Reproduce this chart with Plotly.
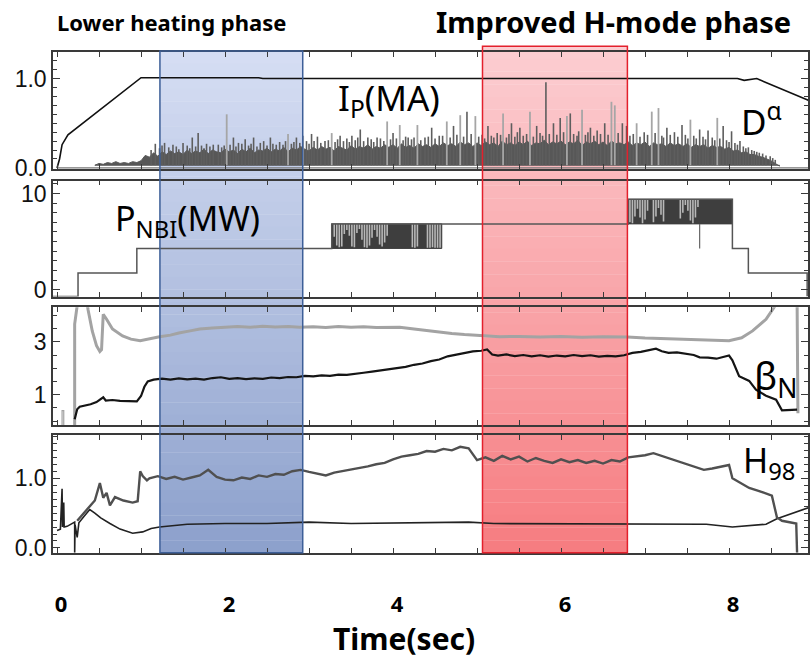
import plotly.graph_objects as go

W, H = 810, 664

# ---------------- data ----------------
# Panel 1: plasma current (MA) and D-alpha
ip_t = [0.00, 0.03, 0.06, 0.13, 1.00, 2.40, 2.45, 8.10, 8.18, 8.25, 8.33, 8.96]
ip_v = [0.00, 0.10, 0.26, 0.37, 1.01, 1.01, 1.00, 1.00, 0.98, 0.99, 1.00, 0.75]

da_band_start, da_band_step = 0.45, 0.05
da_band_top = [
    0.03, 0.05, 0.04, 0.06, 0.05, 0.07, 0.05, 0.06, 0.05, 0.07,
    0.06, 0.08, 0.14, 0.12, 0.17, 0.13, 0.18, 0.15, 0.19, 0.16,
    0.18, 0.15, 0.20, 0.16, 0.19, 0.17, 0.21, 0.16, 0.20, 0.18,
    0.17, 0.21, 0.18, 0.20, 0.16, 0.21, 0.18, 0.22, 0.17, 0.20,
    0.19, 0.22, 0.18, 0.21, 0.19, 0.23, 0.18, 0.22, 0.20, 0.24,
    0.21, 0.19, 0.23, 0.20, 0.24, 0.21, 0.23, 0.19, 0.24, 0.22,
    0.20, 0.25, 0.21, 0.24, 0.22, 0.26, 0.21, 0.24, 0.22, 0.26,
    0.23, 0.26, 0.22, 0.27, 0.23, 0.25, 0.22, 0.27, 0.24, 0.26,
    0.23, 0.27, 0.24, 0.28, 0.25, 0.27, 0.24, 0.29, 0.26, 0.28,
    0.24, 0.28, 0.25, 0.29, 0.26, 0.28, 0.24, 0.30, 0.26, 0.28,
    0.25, 0.29, 0.26, 0.30, 0.25, 0.28, 0.27, 0.31, 0.26, 0.29,
    0.27, 0.30, 0.26, 0.29, 0.27, 0.31, 0.25, 0.29, 0.27, 0.30,
    0.26, 0.29, 0.25, 0.30, 0.27, 0.28, 0.26, 0.29, 0.25, 0.28,
    0.26, 0.29, 0.24, 0.28, 0.26, 0.27, 0.24, 0.28, 0.25, 0.27,
    0.24, 0.27, 0.23, 0.26, 0.24, 0.26, 0.22, 0.25, 0.23, 0.24,
    0.21, 0.23, 0.19, 0.20, 0.17, 0.18, 0.15, 0.15, 0.13, 0.12,
    0.10, 0.08, 0.05, 0.02,
]
da_band_floor = 0.03

da_dark_t = [1.17, 1.28, 1.38, 1.50, 1.61, 1.68, 1.78, 1.92, 2.10, 2.16, 2.24, 2.34,
             2.46, 2.54, 2.61, 2.85, 3.03, 3.10, 3.19, 3.37, 3.51, 3.61, 3.70, 3.81,
             4.00, 4.18, 4.38, 4.46, 4.55, 4.72, 4.88, 5.13, 5.24, 5.41, 5.51, 5.71,
             5.82, 5.91, 5.99, 6.11, 6.35, 6.43, 6.52, 6.73, 6.78, 6.99, 7.26, 7.35,
             7.44, 7.65, 7.75, 7.93, 8.03, 8.13, 8.23, 8.33, 8.40, 8.49,
             1.12, 1.22, 1.25, 1.33, 1.42, 1.45, 1.55, 1.58, 1.65, 1.72, 1.75, 1.82,
             1.86, 1.96, 1.99, 2.06, 2.13, 2.20, 2.28, 2.31, 2.38, 2.42, 2.50, 2.57,
             2.65, 2.69, 2.72, 2.79, 2.82, 2.89, 2.97, 3.00, 3.06, 3.14, 3.23, 3.31,
             3.34, 3.41, 3.45, 3.48, 3.55, 3.58, 3.65, 3.74, 3.77, 3.85, 3.89, 3.97,
             4.04, 4.12, 4.15, 4.22, 4.25, 4.33, 4.42, 4.50, 4.59, 4.68, 4.76, 4.84,
             4.93, 5.02, 5.06, 5.09, 5.17, 5.20, 5.28, 5.35, 5.38, 5.45, 5.48, 5.55,
             5.59, 5.67, 5.75, 5.78, 5.86, 5.95, 6.03, 6.15, 6.19, 6.21, 6.29, 6.32,
             6.39, 6.47, 6.56, 6.68, 6.82, 6.86, 6.94, 7.03, 7.12, 7.20, 7.22, 7.30,
             7.39, 7.48, 7.51, 7.58, 7.61, 7.69, 7.72, 7.80, 7.83, 7.89, 7.97, 8.00,
             8.07, 8.10, 8.17, 8.20, 8.27, 8.30, 8.36, 8.44, 8.52, 8.55]
da_dark_h = [0.27, 0.28, 0.26, 0.28, 0.34, 0.39, 0.27, 0.26, 0.34, 0.28, 0.32, 0.34,
             0.30, 0.34, 0.26, 0.34, 0.38, 0.35, 0.30, 0.36, 0.36, 0.43, 0.34, 0.34,
             0.39, 0.34, 0.34, 0.45, 0.36, 0.47, 0.63, 0.47, 0.39, 0.50, 0.45, 0.47,
             0.96, 0.50, 0.56, 0.61, 0.45, 0.42, 0.50, 0.50, 0.47, 0.40, 0.45, 0.40,
             0.48, 0.43, 0.42, 0.47, 0.41, 0.30, 0.23, 0.18, 0.16, 0.13,
             0.20, 0.22, 0.25, 0.23, 0.24, 0.21, 0.25, 0.22, 0.24, 0.25, 0.22, 0.24,
             0.26, 0.23, 0.25, 0.26, 0.24, 0.27, 0.25, 0.27, 0.24, 0.28, 0.25, 0.27,
             0.29, 0.26, 0.30, 0.27, 0.29, 0.28, 0.30, 0.27, 0.30, 0.28, 0.31, 0.29,
             0.32, 0.30, 0.33, 0.29, 0.31, 0.34, 0.30, 0.32, 0.29, 0.33, 0.30, 0.32,
             0.33, 0.31, 0.35, 0.32, 0.34, 0.31, 0.35, 0.33, 0.36, 0.34, 0.37, 0.35,
             0.38, 0.35, 0.37, 0.33, 0.36, 0.34, 0.37, 0.34, 0.38, 0.35, 0.40, 0.36,
             0.38, 0.35, 0.39, 0.36, 0.38, 0.37, 0.40, 0.38, 0.36, 0.41, 0.37, 0.40,
             0.36, 0.38, 0.37, 0.39, 0.36, 0.38, 0.35, 0.37, 0.39, 0.36, 0.34, 0.37,
             0.35, 0.37, 0.33, 0.36, 0.33, 0.35, 0.32, 0.34, 0.31, 0.33, 0.31, 0.29,
             0.28, 0.26, 0.24, 0.22, 0.20, 0.19, 0.17, 0.14, 0.11, 0.09]
da_light_t = [2.02, 2.75, 2.93, 3.27, 3.93, 4.08, 4.29, 4.64, 4.80, 4.98, 5.31, 5.63,
              6.07, 6.25, 6.60, 6.64, 6.90, 7.08, 7.16, 7.54, 7.86]
da_light_h = [0.60, 0.38, 0.36, 0.39, 0.52, 0.48, 0.48, 0.52, 0.59, 0.58, 0.61, 0.63,
              0.58, 0.65, 0.74, 0.70, 0.50, 0.63, 0.67, 0.54, 0.56]

# Panel 2: NBI power (MW)
nbi_t = [-0.05, 0.25, 0.25, 0.95, 0.95, 3.27, 3.27, 6.80, 6.80, 8.04, 8.04, 8.23, 8.23, 8.93, 8.93]
nbi_v = [-0.70, -0.70, 1.73, 1.73, 4.29, 4.29, 6.84, 6.84, 9.39, 9.39, 4.29, 4.29, 1.73, 1.73, -0.70]
nbi_blocks = [  # (t_start, t_end, low, high) of modulated periods
    (3.27, 4.58, 4.29, 6.84),
    (6.80, 8.04, 6.84, 9.39),
]
nbi_dip_t = [7.65, 7.65]
nbi_dip_v = [6.84, 4.29]
nbi_off1_t = [3.30, 3.33, 3.36, 3.39, 3.42, 3.45, 3.48, 3.51, 3.54, 3.57, 3.60, 3.63, 3.66,
              3.69, 3.72, 3.75, 3.78, 3.81, 3.84, 3.87, 3.90, 3.93, 4.23, 4.26, 4.29,
              4.41, 4.44, 4.47, 4.50, 4.53, 4.56]
nbi_off1_b = [5.50, 4.60, 4.40, 4.50, 5.80, 6.20, 5.60, 4.50, 4.40, 5.90, 6.30, 5.20, 4.40,
              4.35, 4.60, 5.40, 6.20, 5.50, 4.70, 4.50, 4.90, 5.60, 4.40, 4.35, 4.50,
              4.35, 4.35, 4.40, 4.35, 4.35, 4.35]
nbi_off2_t = [6.82, 6.85, 6.88, 6.91, 6.94, 6.97, 7.00, 7.03, 7.10, 7.13, 7.16, 7.19, 7.22,
              7.42, 7.45, 7.48, 7.51, 7.54, 7.57, 7.60, 7.63]
nbi_off2_b = [7.00, 6.90, 7.60, 8.40, 7.50, 6.90, 7.30, 8.20, 7.00, 7.60, 8.50, 7.80, 7.10,
              7.40, 8.00, 8.80, 8.20, 7.20, 6.90, 7.50, 8.60]

# Panel 3: beta_N (black) and grey companion trace
bn_t = [0.21, 0.24, 0.27, 0.33, 0.40, 0.47, 0.51, 0.55, 0.58, 0.66, 0.75, 0.85, 0.95, 1.00,
        1.04, 1.08, 1.15, 1.25, 1.35, 1.45, 1.55, 1.65, 1.75, 1.85, 1.95, 2.05, 2.15, 2.25,
        2.35, 2.45, 2.55, 2.65, 2.75, 2.85, 2.95, 3.05, 3.15, 3.25, 3.35, 3.45, 3.55, 3.65,
        3.75, 3.85, 3.95, 4.05, 4.15, 4.25, 4.35, 4.45, 4.55, 4.65, 4.75, 4.85, 4.95, 5.05,
        5.12, 5.18, 5.25, 5.35, 5.45, 5.55, 5.65, 5.75, 5.85, 5.95, 6.05, 6.15, 6.25, 6.35,
        6.45, 6.55, 6.65, 6.75, 6.85, 6.95, 7.05, 7.13, 7.20, 7.28, 7.38, 7.48, 7.58, 7.65,
        7.75, 7.85, 7.95, 8.00, 8.04, 8.12, 8.24, 8.32, 8.44, 8.56, 8.63, 8.81]
bn_v = [0.07, 0.45, 0.55, 0.58, 0.64, 0.72, 0.80, 0.90, 0.78, 0.80, 0.77, 0.75, 0.75, 0.95,
        1.30, 1.50, 1.57, 1.61, 1.57, 1.62, 1.58, 1.61, 1.57, 1.63, 1.66, 1.60, 1.63, 1.59,
        1.62, 1.60, 1.65, 1.63, 1.67, 1.66, 1.71, 1.69, 1.73, 1.71, 1.76, 1.75, 1.80, 1.83,
        1.87, 1.91, 1.95, 2.01, 2.05, 2.13, 2.18, 2.27, 2.33, 2.45, 2.52, 2.58, 2.64, 2.66,
        2.71, 2.52, 2.48, 2.52, 2.46, 2.50, 2.45, 2.49, 2.44, 2.48, 2.45, 2.50, 2.46, 2.49,
        2.44, 2.47, 2.45, 2.49, 2.58, 2.62, 2.68, 2.74, 2.64, 2.58, 2.60, 2.55, 2.50, 2.41,
        2.40, 2.36, 2.44, 2.48, 2.30, 1.70, 1.52, 1.19, 0.96, 0.81, 0.41, 0.44]
gr_t = [0.21, 0.21, 0.25, 0.35, 0.37, 0.42, 0.47, 0.51, 0.53, 0.55, 0.59, 0.66, 0.78, 0.88,
        0.99, 1.10, 1.22, 1.35, 1.45, 1.60, 1.70, 1.85, 2.00, 2.15, 2.30, 2.45, 2.60, 2.75,
        2.89, 3.05, 3.20, 3.35, 3.50, 3.65, 3.80, 3.95, 4.08, 4.25, 4.40, 4.55, 4.70, 4.85,
        5.00, 5.15, 5.27, 5.50, 5.75, 6.00, 6.25, 6.50, 6.79, 7.00, 7.25, 7.50, 7.75, 8.00,
        8.15, 8.28, 8.44, 8.54, 8.60, 8.81, 8.82]
gr_v = [-0.15, 3.67, 4.60, 4.60, 4.20, 3.40, 2.85, 2.63, 2.70, 4.04, 3.85, 3.48, 3.22, 3.10,
        3.04, 3.12, 3.19, 3.25, 3.33, 3.42, 3.48, 3.52, 3.54, 3.58, 3.55, 3.59, 3.56, 3.58,
        3.55, 3.57, 3.54, 3.58, 3.55, 3.57, 3.54, 3.56, 3.55, 3.48, 3.42, 3.36, 3.31, 3.27,
        3.24, 3.21, 3.19, 3.20, 3.18, 3.20, 3.17, 3.19, 3.18, 3.14, 3.11, 3.09, 3.06, 3.04,
        3.15, 3.41, 3.85, 4.30, 4.60, 4.60, 0.30]
gr_start_t = [0.06, 0.06, 0.08, 0.08]
gr_start_v = [-0.15, 0.40, 0.40, -0.15]

# Panel 4: H98 (dark grey) and lower black trace
h98_head_t = [0.24, 0.30, 0.36, 0.45, 0.51, 0.55, 0.59, 0.63, 0.69, 0.79, 0.90, 0.96, 0.99, 1.02, 1.07]
h98_head_v = [0.39, 0.47, 0.55, 0.68, 0.93, 0.72, 0.79, 0.61, 0.73, 0.68, 0.65, 0.67, 1.10, 1.03, 0.97]
h98_mid_start, h98_mid_step = 1.1, 0.1
h98_mid_v = [
    1.00, 1.03, 0.99, 1.02, 0.98, 1.01, 1.04, 1.12, 1.02, 0.98,
    0.97, 1.01, 0.99, 1.04, 1.02, 1.06, 1.05, 1.10, 1.12, 1.09,
    1.07, 1.04, 1.08, 1.10, 1.13, 1.15, 1.17, 1.20, 1.22, 1.27,
    1.31, 1.33, 1.35, 1.39, 1.38, 1.42, 1.40, 1.45, 1.43, 1.26,
    1.30, 1.25, 1.32, 1.27, 1.31, 1.24, 1.29, 1.25, 1.22, 1.27,
    1.23, 1.26, 1.22, 1.25, 1.21, 1.26, 1.24, 1.30, 1.31, 1.33,
    1.36, 1.32, 1.27, 1.24, 1.20, 1.16, 1.12, 1.14, 1.17, 1.19,
]
h98_tail_t = [8.04, 8.10, 8.24, 8.35, 8.51, 8.57, 8.63, 8.80, 8.81]
h98_tail_v = [1.00, 0.96, 0.86, 0.82, 0.75, 0.44, 0.39, 0.35, -0.07]
low_t = [0.00, 0.04, 0.06, 0.065, 0.08, 0.085, 0.12, 0.18, 0.21, 0.21, 0.215, 0.24, 0.26,
         0.32, 0.39, 0.45, 0.52, 0.63, 0.75, 0.90, 1.02, 1.12, 1.22, 1.55, 2.00, 2.50, 3.00,
         3.50, 4.00, 4.50, 4.90, 5.20, 6.00, 6.80, 7.30, 7.73, 8.04, 8.30, 8.44, 8.57, 8.75, 8.95]
low_v = [0.25, 0.27, 0.85, 0.30, 0.65, 0.30, 0.31, 0.35, 0.37, -0.07, 0.33, 0.15, 0.36,
         0.45, 0.55, 0.50, 0.43, 0.35, 0.27, 0.21, 0.23, 0.28, 0.30, 0.34, 0.35, 0.35, 0.37,
         0.35, 0.36, 0.37, 0.37, 0.35, 0.35, 0.34, 0.35, 0.34, 0.30, 0.32, 0.34, 0.42, 0.50, 0.58]

# shaded phases (time in s)
phase_blue = (1.225, 2.925)
phase_red = (5.065, 6.79)

x_ticks = [0, 2, 4, 6, 8]

# ---------------- layout geometry (pixels) ----------------
px_left, px_right = 53, 808
panels_px = [(53, 172), (184, 302), (313, 433), (443, 563)]
yranges = [[-0.011, 1.297], [-0.71, 11.33], [-0.15, 4.30], [-0.07, 1.62]]
ytickvals = [[0, 1.0], [0, 10], [1, 3], [0, 1.0]]
yticktext = [["0.0", "1.0"], ["0", "10"], ["1", "3"], ["0.0", "1.0"]]
yminor = [0.1, 1.0, 0.5, 0.1]
xrange_ = [-0.048, 8.94]


def py(p):
    return 1 - p / H


def segs(ts, y0s, y1s):
    xs, ys = [], []
    for t, a, b in zip(ts, y0s, y1s):
        xs += [t, t, None]
        ys += [a, b, None]
    return xs, ys


fig = go.Figure()

FR = '#3a3a3a'
# ---- panel 1
band_t = [round(da_band_start + i * da_band_step, 3) for i in range(len(da_band_top))]
fig.add_trace(go.Scatter(x=band_t + band_t[::-1], y=da_band_top + [da_band_floor] * len(band_t),
                         fill='toself', fillcolor='#575757', line=dict(color='#575757', width=1),
                         mode='lines', xaxis='x', yaxis='y', hoverinfo='skip'))
fig.add_trace(go.Scatter(x=[0.0, 8.96], y=[0.0, 0.0], mode='lines',
                         line=dict(color='#777777', width=1.2), xaxis='x', yaxis='y'))
sx, sy = segs(da_dark_t, [da_band_floor] * len(da_dark_t), da_dark_h)
fig.add_trace(go.Scatter(x=sx, y=sy, mode='lines', line=dict(color='#5e5e5e', width=1.6),
                         xaxis='x', yaxis='y', hoverinfo='skip'))
sx, sy = segs(da_light_t, [da_band_floor] * len(da_light_t), da_light_h)
fig.add_trace(go.Scatter(x=sx, y=sy, mode='lines', line=dict(color='#a6a6a6', width=1.8),
                         xaxis='x', yaxis='y', hoverinfo='skip'))
fig.add_trace(go.Scatter(x=ip_t, y=ip_v, mode='lines', line=dict(color='#111111', width=1.6),
                         xaxis='x', yaxis='y'))

# ---- panel 2
for (a, b, lo, hi) in nbi_blocks:
    fig.add_trace(go.Scatter(x=[a, b, b, a, a], y=[lo, lo, hi, hi, lo], fill='toself',
                             fillcolor='#3e3e3e', line=dict(color='#3e3e3e', width=1),
                             mode='lines', xaxis='x2', yaxis='y2', hoverinfo='skip'))
sx, sy = segs(nbi_off1_t, nbi_off1_b, [6.84] * len(nbi_off1_t))
fig.add_trace(go.Scatter(x=sx, y=sy, mode='lines', line=dict(color='#b8b8b8', width=1.6),
                         xaxis='x2', yaxis='y2', hoverinfo='skip'))
sx, sy = segs(nbi_off2_t, nbi_off2_b, [9.39] * len(nbi_off2_t))
fig.add_trace(go.Scatter(x=sx, y=sy, mode='lines', line=dict(color='#b8b8b8', width=1.6),
                         xaxis='x2', yaxis='y2', hoverinfo='skip'))
fig.add_trace(go.Scatter(x=nbi_t, y=nbi_v, mode='lines', line=dict(color='#555555', width=1.5),
                         xaxis='x2', yaxis='y2'))
fig.add_trace(go.Scatter(x=nbi_dip_t, y=nbi_dip_v, mode='lines', line=dict(color='#666666', width=1.2),
                         xaxis='x2', yaxis='y2'))

# ---- panel 3
fig.add_trace(go.Scatter(x=gr_t, y=gr_v, mode='lines', line=dict(color='#a3a3a3', width=3),
                         xaxis='x3', yaxis='y3'))
fig.add_trace(go.Scatter(x=gr_start_t, y=gr_start_v, mode='lines', line=dict(color='#a3a3a3', width=1.2),
                         xaxis='x3', yaxis='y3'))
fig.add_trace(go.Scatter(x=bn_t, y=bn_v, mode='lines', line=dict(color='#151515', width=2.2),
                         xaxis='x3', yaxis='y3'))

# ---- panel 4
mid_t = [round(h98_mid_start + i * h98_mid_step, 3) for i in range(len(h98_mid_v))]
fig.add_trace(go.Scatter(x=low_t, y=low_v, mode='lines', line=dict(color='#222222', width=1.6),
                         xaxis='x4', yaxis='y4'))
fig.add_trace(go.Scatter(x=h98_head_t + mid_t + h98_tail_t, y=h98_head_v + h98_mid_v + h98_tail_v,
                         mode='lines', line=dict(color='#505050', width=2.4),
                         xaxis='x4', yaxis='y4'))

# ---------------- axes ----------------
lay = {}
for i, (top, bot) in enumerate(panels_px):
    n = '' if i == 0 else str(i + 1)
    last = i == 3
    lay['xaxis' + n] = dict(
        domain=[px_left / W, px_right / W], anchor='y' + n, range=xrange_,
        showline=True, linecolor=FR, linewidth=1.5, mirror='ticks',
        ticks='inside', ticklen=5, tickwidth=1.2, tickcolor=FR,
        tickmode='array', tickvals=x_ticks, ticktext=[str(v) for v in x_ticks],
        minor=dict(dtick=0.5, tick0=0, ticks='inside', ticklen=5, tickwidth=1.2, tickcolor=FR),
        showgrid=False, zeroline=False, showticklabels=last,
        tickfont=dict(family='Noto Sans', size=22, color='#000000', weight='bold'),
        ticklabelstandoff=31, ticklabelshift=4,
    )
    if i > 0:
        lay['xaxis' + n]['matches'] = 'x'
    lay['yaxis' + n] = dict(
        domain=[py(bot), py(top)], anchor='x' + n, range=yranges[i],
        showline=True, linecolor=FR, linewidth=1.5, mirror='ticks',
        ticks='inside', ticklen=7, tickwidth=1.2, tickcolor=FR,
        tickmode='array', tickvals=ytickvals[i], ticktext=yticktext[i],
        minor=dict(dtick=yminor[i], tick0=0, ticks='inside', ticklen=4, tickwidth=1, tickcolor=FR),
        showgrid=False, zeroline=False,
        tickfont=dict(family='Liberation Sans', size=23, color='#111111'),
    )

# ---------------- shaded phase boxes (vertical gradient) ----------------
def lerp(c0, c1, f):
    return 'rgb(%d,%d,%d)' % tuple(round(a + (b - a) * f) for a, b in zip(c0, c1))


shapes = []
def gradient_box(t0, t1, top_px, bot_px, c_top, c_bot, edge, n=40):
    for k in range(n):
        y_a = top_px + (bot_px - top_px) * k / n
        y_b = top_px + (bot_px - top_px) * (k + 1) / n
        shapes.append(dict(type='rect', xref='x', yref='paper', x0=t0, x1=t1,
                           y0=py(y_b) - 0.0005, y1=py(y_a), fillcolor=lerp(c_top, c_bot, (k + 0.5) / n),
                           line=dict(width=0), layer='below'))
    shapes.append(dict(type='rect', xref='x', yref='paper', x0=t0, x1=t1, y0=py(bot_px), y1=py(top_px),
                       fillcolor='rgba(0,0,0,0)', line=dict(color=edge, width=1.5), layer='above'))


gradient_box(phase_blue[0], phase_blue[1], 52, 563, (214, 222, 243), (140, 160, 204), '#3d5f98')
gradient_box(phase_red[0], phase_red[1], 47, 563, (252, 206, 210), (246, 124, 128), '#e3202c')

# ---------------- text ----------------
TF = 'Noto Sans'
ann = [
    dict(text='<b>Lower heating phase</b>', x=171 / W, y=py(22), size=22),
    dict(text='<b>Improved H-mode phase</b>', x=613 / W, y=py(22), size=29),
    dict(text='<b>Time(sec)</b>', x=404 / W, y=py(650), size=30),
    dict(text='I<sub>P</sub>(MA)', x=389 / W, y=py(101), size=35),
    dict(text='D<sup>α</sup>', x=761 / W, y=py(122), size=35),
    dict(text='P<sub>NBI</sub>(MW)', x=187 / W, y=py(224), size=34),
    dict(text='β<sub>N</sub>', x=776 / W, y=py(384), size=38),
    dict(text='H<sub>98</sub>', x=769 / W, y=py(470), size=34),
]
annotations = [dict(text=a['text'], x=a['x'], y=a['y'], xref='paper', yref='paper',
                    showarrow=False, xanchor='center', yanchor='middle',
                    font=dict(family=TF, size=a['size'], color='#000000')) for a in ann]

fig.update_layout(
    width=W, height=H, margin=dict(l=0, r=0, t=0, b=0),
    paper_bgcolor='white', plot_bgcolor='white', showlegend=False,
    shapes=shapes, annotations=annotations, **lay,
)

fig.write_html('out.html')
